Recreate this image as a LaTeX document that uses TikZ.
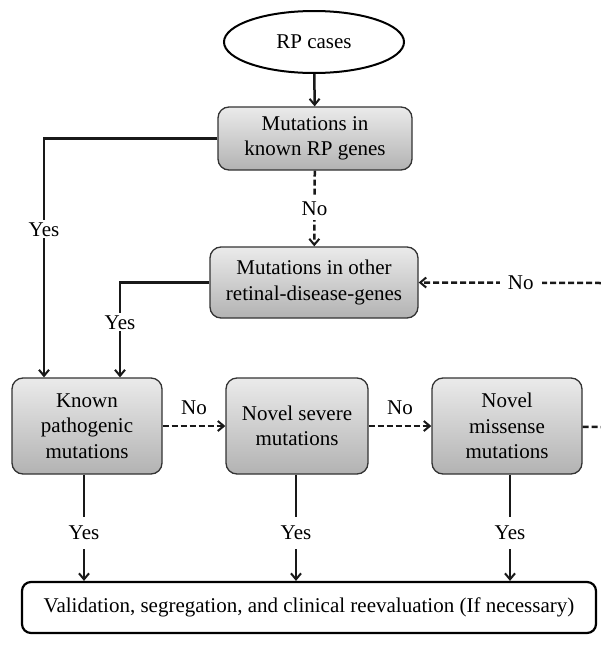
\documentclass[tikz,border=0pt]{standalone}
\usepackage{fontspec}
\setmainfont{Liberation Serif}
\usetikzlibrary{shapes.geometric,arrows.meta,shadings}
\begin{document}
\begin{tikzpicture}[x=1pt,y=-1pt,
  font=\fontsize{21}{25.5}\selectfont,
  conn/.style={line width=2.5pt,draw=black!90},
  arr/.style={conn,-{Straight Barb[length=6pt,width=10pt,line width=2pt]}},
  dsh/.style={dash pattern=on 6pt off 3pt},
  gbox/.style={draw=black!80,line width=1.3pt,rounded corners=11pt,top color=white!92!black,bottom color=black!30,align=center,inner sep=0pt},
  lbl/.style={fill=white,inner sep=2pt}]
\useasboundingbox (0,0) rectangle (601,648);
\node[ellipse,draw,line width=2pt,minimum width=180pt,minimum height=62pt] (rp) at (314,42) {RP cases};
\node[gbox,minimum width=194pt,minimum height=63pt] (k) at (315,138.5) {Mutations in\\known RP genes};
\node[gbox,minimum width=208pt,minimum height=71pt] (o) at (314,282.5) {Mutations in other\\retinal-disease-genes};
\node[gbox,minimum width=150pt,minimum height=96pt] (kp) at (87,426) {Known\\pathogenic\\mutations};
\node[gbox,minimum width=142pt,minimum height=96pt] (ns) at (297,426) {Novel severe\\mutations};
\node[gbox,minimum width=150pt,minimum height=96pt] (nm) at (507,426) {Novel\\missense\\mutations};
\node[draw,line width=2.2pt,rounded corners=9pt,minimum width=574pt,minimum height=51pt] (v) at (309,607.5) {Validation, segregation, and clinical reevaluation (If necessary)};
\coordinate (ea) at (601,283);
\coordinate (eb) at (601,427);
% arrows
\draw[arr] (rp) -- (k);
\draw[arr,dsh] (k) -- node[lbl,inner ysep=5pt]{No} (o);
\draw[arr] (k.west) -| node[lbl,pos=0.69]{Yes} (kp.north west -| 44,0);
\draw[arr] (o.west) -| node[lbl,pos=0.71]{Yes} (kp.north west -| 120,0);
\draw[arr,dsh] (ea) -- node[lbl,pos=0.44,inner xsep=8pt]{No} (o.east);
\draw[arr,dsh] (kp) -- node[above=7pt]{No} (ns);
\draw[arr,dsh] (ns) -- node[above=7pt]{No} (nm);
\draw[conn,dsh] (nm) -- (eb);
\draw[arr] (kp.south -| 84,0) -- node[lbl,inner ysep=9pt,pos=0.55]{Yes} (v.north -| 84,0);
\draw[arr] (ns.south -| 296,0) -- node[lbl,inner ysep=9pt,pos=0.55]{Yes} (v.north -| 296,0);
\draw[arr] (nm.south -| 510,0) -- node[lbl,inner ysep=9pt,pos=0.55]{Yes} (v.north -| 510,0);
\end{tikzpicture}
\end{document}
